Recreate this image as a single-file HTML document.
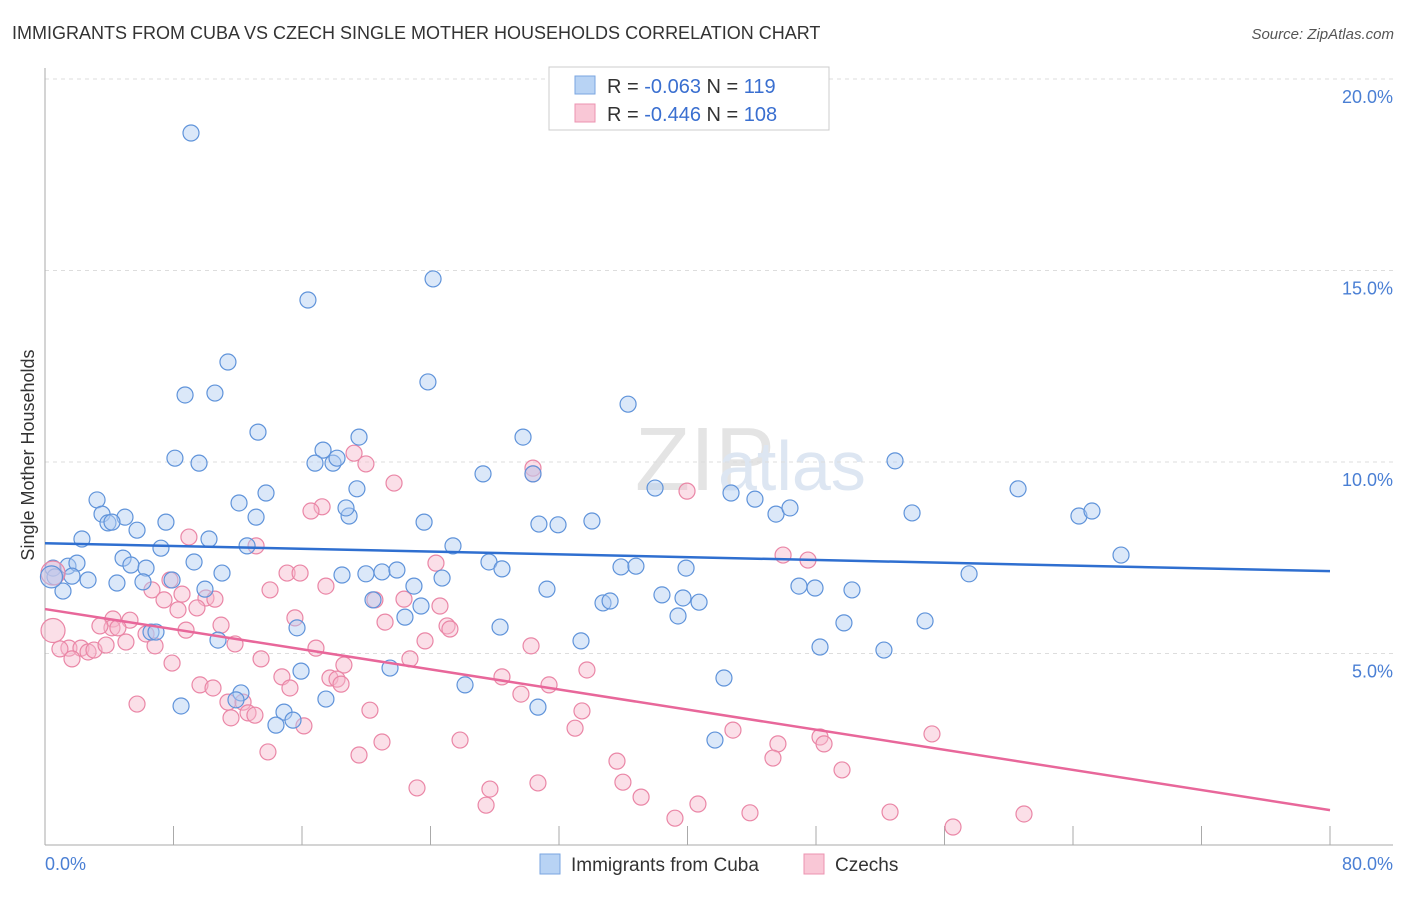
<!DOCTYPE html>
<html><head><meta charset="utf-8">
<style>
body{margin:0;background:#fff;font-family:"Liberation Sans",sans-serif;}
svg text{font-family:"Liberation Sans",sans-serif;}
</style></head>
<body>
<svg id="chart" width="1406" height="892" xmlns="http://www.w3.org/2000/svg">
<text x="12" y="39" font-size="18" fill="#333">IMMIGRANTS FROM CUBA VS CZECH SINGLE MOTHER HOUSEHOLDS CORRELATION CHART</text>
<text x="1394" y="39" font-size="15" fill="#555" font-style="italic" text-anchor="end">Source: ZipAtlas.com</text>
<text x="635" y="490" font-size="90" fill="#e4e4e4" font-family="Liberation Serif">ZIP</text>
<text x="718" y="490" font-size="70" fill="#dde6f2">atlas</text>
<g id="grid"></g>
<g id="marks"></g>
<text transform="translate(34,455) rotate(-90)" font-size="18" fill="#333" text-anchor="middle">Single Mother Households</text>
<text x="45" y="870" font-size="18" fill="#4a7fd4">0.0%</text>
<text x="1393" y="870" font-size="18" fill="#4a7fd4" text-anchor="end">80.0%</text>
<g>
<rect x="549" y="67" width="280" height="63" fill="#fff" stroke="#ccc"/>
<rect x="575" y="76" width="20" height="18" fill="#b8d3f4" stroke="#7aa6e0"/>
<rect x="575" y="104" width="20" height="18" fill="#f9c7d6" stroke="#ec93b0"/>
<text x="607" y="93" font-size="20" fill="#333">R = <tspan fill="#3a6fd0">-0.063</tspan>   N =  <tspan fill="#3a6fd0">119</tspan></text>
<text x="607" y="121" font-size="20" fill="#333">R = <tspan fill="#3a6fd0">-0.446</tspan>   N = <tspan fill="#3a6fd0">108</tspan></text>
</g>
<g>
<rect x="540" y="854" width="20" height="20" fill="#b8d3f4" stroke="#7aa6e0"/>
<text x="571" y="871" font-size="19" fill="#333">Immigrants from Cuba</text>
<rect x="804" y="854" width="20" height="20" fill="#f9c7d6" stroke="#ec93b0"/>
<text x="835" y="871" font-size="19" fill="#333">Czechs</text>
</g>
</svg>
<script>
const yTicks=[5,10,15,20];
const xTicks=[0,8,16,24,32,40,48,56,64,72,80];
const bluePx=[[191,133],[433,279],[308,300],[228,362],[428,382],[185,395],[215,393],[628,404],[258,432],[523,437],[359,437],[323,450],[175,458],[199,463],[315,463],[333,463],[337,458],[895,461],[483,474],[533,474],[97,500],[266,493],[239,503],[357,489],[655,488],[731,493],[755,499],[1018,489],[102,514],[125,517],[108,523],[112,522],[256,517],[349,516],[346,508],[166,522],[137,530],[424,522],[539,524],[558,525],[592,521],[776,514],[790,508],[912,513],[1079,516],[1092,511],[82,539],[209,539],[161,548],[247,546],[453,546],[123,558],[194,562],[1121,555],[53,568],[68,566],[77,563],[131,565],[146,568],[72,576],[88,580],[117,583],[143,582],[172,580],[222,573],[342,575],[366,574],[382,572],[397,570],[442,578],[489,562],[502,569],[621,567],[636,566],[686,568],[969,574],[63,591],[205,589],[414,586],[547,589],[799,586],[815,588],[852,590],[373,600],[603,603],[610,601],[662,595],[683,598],[699,602],[421,606],[405,617],[678,616],[151,632],[156,632],[297,628],[500,627],[844,623],[925,621],[218,640],[581,641],[820,647],[884,650],[390,668],[301,671],[724,678],[465,685],[241,693],[236,700],[181,706],[326,699],[538,707],[284,712],[293,720],[276,725],[715,740],[55,577]];
const pinkPx=[[354,453],[366,464],[533,468],[533,474],[394,483],[687,491],[322,507],[311,511],[189,537],[256,546],[783,555],[808,560],[436,563],[287,573],[300,573],[170,580],[152,590],[182,594],[326,586],[270,590],[206,598],[164,600],[215,599],[404,599],[375,600],[440,606],[178,610],[197,608],[295,618],[113,619],[130,620],[112,628],[100,626],[118,628],[385,622],[447,626],[221,625],[186,630],[450,629],[146,634],[126,642],[235,644],[69,648],[60,649],[81,648],[88,652],[94,650],[106,645],[425,641],[316,648],[531,646],[344,665],[261,659],[72,659],[155,646],[410,659],[172,663],[587,670],[282,677],[330,678],[337,679],[341,684],[502,677],[200,685],[213,688],[290,688],[549,685],[521,694],[228,702],[243,702],[137,704],[248,713],[255,715],[231,718],[370,710],[582,711],[304,726],[575,728],[733,730],[932,734],[820,737],[460,740],[382,742],[778,744],[824,744],[268,752],[359,755],[773,758],[617,761],[842,770],[623,782],[538,783],[417,788],[490,789],[641,797],[486,805],[698,804],[750,813],[890,812],[1024,814],[675,818],[953,827]];
// convert picture readings into data values (% units)
const blueX=bluePx.map(p=>+((p[0]-45)/16.0625).toFixed(2));
const blueY=bluePx.map(p=>+((845-p[1])/38.3).toFixed(2));
const pinkX=pinkPx.map(p=>+((p[0]-45)/16.0625).toFixed(2));
const pinkY=pinkPx.map(p=>+((845-p[1])/38.3).toFixed(2));
const blueBig=[[0.4,7.0]];
const pinkBig=[[0.5,7.1],[0.5,5.6]];
const blueTrend=[7.88,7.15];
const pinkTrend=[6.16,0.91];
const NS='http://www.w3.org/2000/svg';
const sx=v=>45+v*16.0625, sy=v=>845-v*38.3;
const grid=document.getElementById('grid'), marks=document.getElementById('marks');
function mk(tag,at,parent){const e=document.createElementNS(NS,tag);for(const k in at)e.setAttribute(k,at[k]);parent.appendChild(e);return e;}
yTicks.forEach(t=>{
 const l=mk('line',{x1:45,x2:1393,y1:sy(t),y2:sy(t),stroke:'#ddd','stroke-dasharray':'4,4'},grid);
 
 
 const tx=mk('text',{x:1393,y:sy(t)+24,'font-size':18,fill:'#4a7fd4','text-anchor':'end'},grid);
 tx.textContent=t.toFixed(1)+'%';
 
 
});
const ax=mk('line',{x1:45,x2:45,y1:68,y2:845,stroke:'#aaa'},grid);


const bx=mk('line',{x1:45,x2:1393,y1:845,y2:845,stroke:'#aaa'},grid);


xTicks.forEach(t=>{
 const l=mk('line',{x1:sx(t),x2:sx(t),y1:826,y2:845,stroke:'#aaa'},grid);
 
 
});
function dots(xs,ys,fill,stroke,name,r){
 xs.forEach((x,i)=>{
  const c=mk('circle',{cx:sx(x),cy:sy(ys[i]),r:r,fill:fill,'fill-opacity':0.45,stroke:stroke,'stroke-width':1.2},marks);
  
  
 });
}
dots(pinkX,pinkY,'#f7b8cb','#ea86a6','czechs-point',8);
dots(blueX,blueY,'#b0cdf2','#5f93da','cuba-point',8);
dots(pinkBig.map(p=>p[0]),pinkBig.map(p=>p[1]),'#f7b8cb','#ea86a6','czechs-point',12);
dots(blueBig.map(p=>p[0]),blueBig.map(p=>p[1]),'#b0cdf2','#5f93da','cuba-point',11);
const bl=mk('line',{x1:sx(0),y1:sy(blueTrend[0]),x2:sx(80),y2:sy(blueTrend[1]),stroke:'#2f6fd0','stroke-width':2.5},marks);


const pl=mk('line',{x1:sx(0),y1:sy(pinkTrend[0]),x2:sx(80),y2:sy(pinkTrend[1]),stroke:'#e8679a','stroke-width':2.5},marks);


</script>
</body></html>
